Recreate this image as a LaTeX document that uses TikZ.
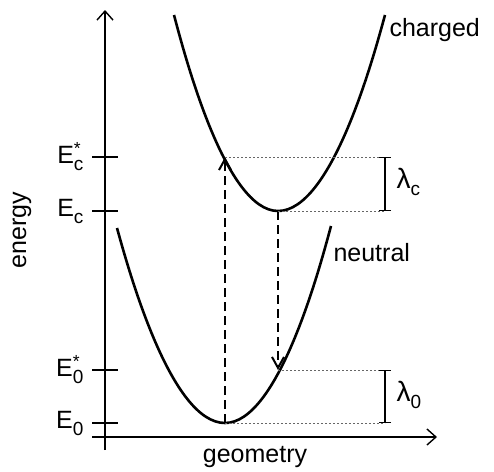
\documentclass[tikz,border=0pt]{standalone}
\usepackage{fontspec}
\setmainfont{Liberation Sans}
\usetikzlibrary{arrows.meta}

\newcommand{\lowidx}[1]{\raisebox{-0.28em}{\fontsize{19}{19}\selectfont #1}}

\begin{document}
\begin{tikzpicture}[x=1pt, y=-1pt, font=\fontsize{25}{30}\selectfont,
    curve/.style={line width=2.6pt},
    axis/.style={line width=1.4pt, -{Straight Barb[length=9pt,width=16pt,line width=1.4pt]}},
    jump/.style={line width=2.6pt, dash pattern=on 9pt off 5pt, -{Straight Barb[length=11pt,width=12pt,line width=2pt]}},
    guide/.style={line width=0.9pt, dash pattern=on 2pt off 2pt, black!60},
    gap/.style={line width=1.4pt, {Bar[width=12pt]}-{Bar[width=12pt]}},
    tick/.style={line width=1.4pt}]
    \useasboundingbox (0,0) rectangle (494,471);

    % Axes
    \coordinate (origin) at (105,437);
    \draw[axis] (105,450) -- (105,10);
    \draw[axis] (92,437) -- (437,437);
    \node[rotate=90] (energy) at (22,230) {energy};
    \node (geometry) at (255,457) {geometry};

    % Key points on the two curves
    \coordinate (G0) at (225,423);
    \coordinate (Gs) at (278,370);
    \coordinate (C0) at (278,211);
    \coordinate (Cs) at (225,157);

    % Energy ticks and labels
    \foreach \pt/\lab in {Cs/{E\rlap{\textsuperscript{*}}\lowidx{c}}, C0/{E\lowidx{c}},
                          Gs/{E\rlap{\textsuperscript{*}}\lowidx{0}}, G0/{E\lowidx{0}}} {
        \draw[tick] (92,0 |- \pt) -- (118,0 |- \pt);
        \node[anchor=east] at (87,0 |- \pt) {\lab};
    }

    % Potential curves
    \draw[curve] (174,15) parabola bend (C0) (385,15);
    \draw[curve] (117,228) parabola bend (G0) (331,226);
    \node[anchor=west] (charged) at (386,30) {charged};
    \node[anchor=west] (neutral) at (330,253) {neutral};

    % Vertical transitions
    \draw[jump] (G0) -- (Cs);
    \draw[jump] (C0) -- (Gs);

    % Relaxation energies
    \coordinate (Lc1) at (385,157);
    \coordinate (Lc2) at (385,211);
    \coordinate (L01) at (385,370);
    \coordinate (L02) at (385,423);
    \draw[guide] (Cs) -- (Lc1);
    \draw[guide] (C0) -- (Lc2);
    \draw[guide] (Gs) -- (L01);
    \draw[guide] (G0) -- (L02);
    \draw[gap] (Lc1) -- (Lc2);
    \draw[gap] (L01) -- (L02);
    \node[anchor=west] (lamc) at (393,182) {{\fontsize{28}{30}\selectfont λ}\lowidx{c}};
    \node[anchor=west] (lam0) at (393,395) {{\fontsize{28}{30}\selectfont λ}\lowidx{0}};

\end{tikzpicture}
\end{document}
